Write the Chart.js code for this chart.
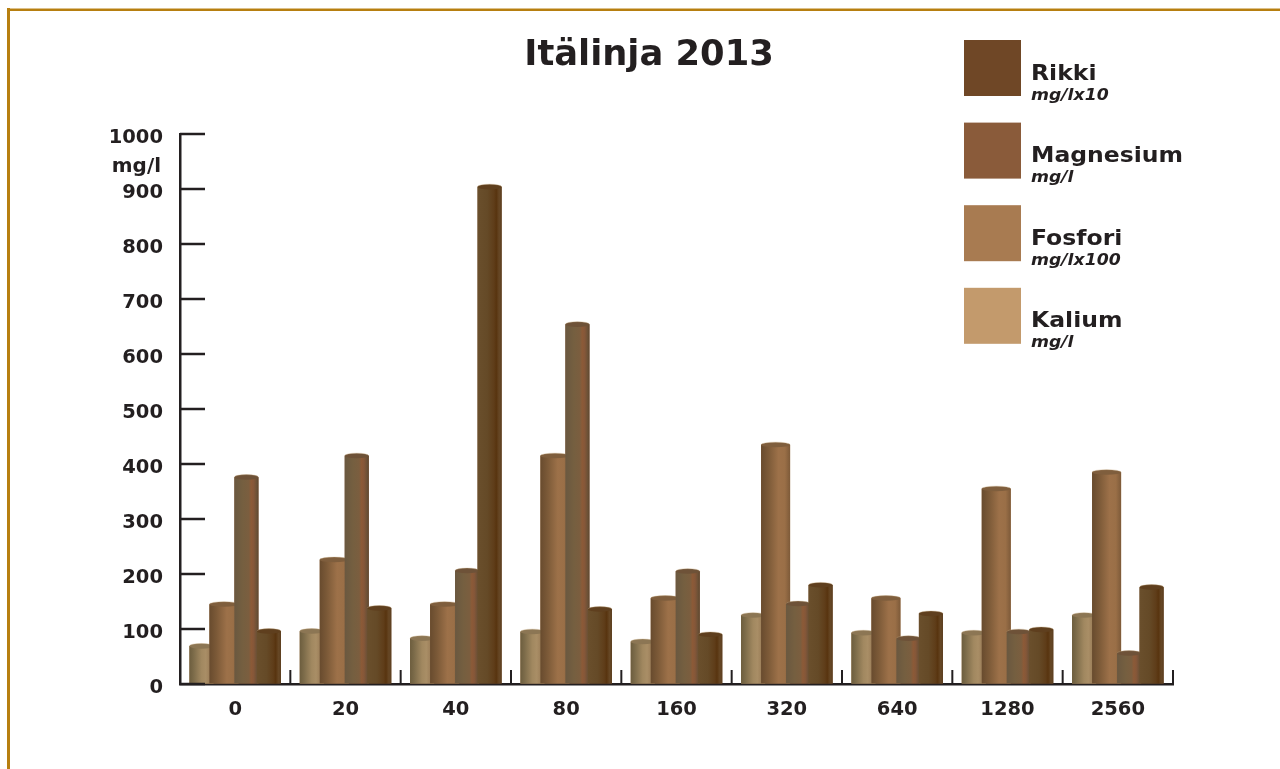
<!DOCTYPE html>
<html lang="fi">
<head>
<meta charset="utf-8">
<title>Itälinja 2013</title>
<script src="https://cdn.jsdelivr.net/npm/chart.js@4.4.1/dist/chart.umd.min.js"></script>
<style>
  html, body { margin: 0; padding: 0; background: #ffffff; }
  #wrap { position: relative; width: 1280px; height: 769px; overflow: hidden; }
  #frameTop { position: absolute; left: 7px; top: 8px; width: 1273px; height: 3px; background: #b77f10; border-top: 1px solid #dcc08a; box-sizing: border-box; }
  #frameLeft { position: absolute; left: 7px; top: 8px; width: 3px; height: 761px; background: #b77f10; }
  canvas { position: absolute; left: 0; top: 0; }
</style>
</head>
<body>
<div id="wrap">
  <canvas id="chart" width="1280" height="769"></canvas>
  <div id="frameTop"></div>
  <div id="frameLeft"></div>
</div>
<script>
// Sample rows (x-axis categories)
const categories = ['0', '20', '40', '80', '160', '320', '640', '1280', '2560'];

// Measured values per series
const kalium    = [69, 96, 83, 95, 77, 125, 93, 93, 125];
const fosfori   = [145, 226, 145, 415, 156, 435, 156, 355, 385];
const magnesium = [376, 415, 206, 654, 205, 146, 83, 95, 56];
const rikki     = [96, 138, 904, 136, 90, 180, 128, 99, 176];

// Series names and units shown in the legend
const seriesNames = ['Kalium', 'Fosfori', 'Magnesium', 'Rikki'];
const seriesUnits = ['mg/l', 'mg/lx100', 'mg/l', 'mg/lx10'];

// Value axis
const yMin = 0;
const yMax = 1000;
const yStep = 100;
const yUnit = 'mg/l';
const titleText = 'Itälinja 2013';

// Styling
const ink = '#231f20';
const legendColors = ['#c39a6c', '#a87b51', '#8a5b3a', '#6f4726'];
const barWidths = [1.07, 1.29, 1.07, 1.07];
const cylinderStops = [
  [[0, '#6c5d3e'], [0.18, '#7d6c4a'], [0.5, '#a18860'], [0.68, '#a98e66'], [0.88, '#9a7c57'], [1, '#85704f']],
  [[0, '#684b2e'], [0.25, '#7c5a38'], [0.6, '#9d7149'], [0.82, '#9a6f47'], [1, '#7d5a39']],
  [[0, '#6a5840'], [0.35, '#755f40'], [0.6, '#7b5e3f'], [0.7, '#8c5a37'], [0.8, '#855739'], [0.92, '#6d5136'], [1, '#5e462f']],
  [[0, '#6a4f2c'], [0.4, '#654a27'], [0.68, '#5f3d19'], [0.78, '#58340f'], [0.9, '#664725'], [1, '#5c3f20']]
];
const capColors = ['#8c7654', '#7f5e3d', '#6e5238', '#5f3f1e'];

const FONT = '"DejaVu Sans", "Open Sans", sans-serif';

function stretchedText(ctx, text, x, y, font, sx, align) {
  ctx.save();
  ctx.font = font;
  ctx.textBaseline = 'alphabetic';
  ctx.fillStyle = ink;
  const w = ctx.measureText(text).width * sx;
  let left = x;
  if (align === 'center') left = x - w / 2;
  else if (align === 'right') left = x - w;
  ctx.translate(left, y);
  ctx.scale(sx, 1);
  ctx.textAlign = 'left';
  ctx.fillText(text, 0, 0);
  ctx.restore();
}

// Draws each bar as a shaded cylinder on top of the library's bar geometry,
// left-to-right series order so later series sit in front.
const cylinderPlugin = {
  id: 'cylinders',
  afterDatasetsDraw(chart) {
    const ctx = chart.ctx;
    ctx.save();
    chart.data.datasets.forEach((ds, di) => {
      const meta = chart.getDatasetMeta(di);
      if (meta.hidden) return;
      meta.data.forEach(el => {
        const p = el.getProps(['x', 'y', 'base', 'width'], true);
        const l = p.x - p.width / 2;
        const g = ctx.createLinearGradient(l, 0, l + p.width, 0);
        cylinderStops[di].forEach(s => g.addColorStop(s[0], s[1]));
        ctx.fillStyle = g;
        ctx.fillRect(l, p.y, p.width, p.base - p.y);
        // rounded top
        ctx.beginPath();
        ctx.ellipse(p.x, p.y, p.width / 2, 2.6, 0, 0, Math.PI * 2);
        ctx.fillStyle = capColors[di];
        ctx.fill();
        ctx.beginPath();
        ctx.ellipse(p.x, p.y, p.width / 2, 2.6, 0, Math.PI, Math.PI * 2);
        ctx.strokeStyle = 'rgba(200,170,130,0.45)';
        ctx.lineWidth = 0.8;
        ctx.stroke();
      });
    });
    ctx.restore();
  }
};

// Inward tick marks, unit label, title and the square legend
const decorPlugin = {
  id: 'decor',
  afterDraw(chart) {
    const ctx = chart.ctx;
    const ys = chart.scales.y;
    const xs = chart.scales.x;
    const area = chart.chartArea;
    ctx.save();
    ctx.strokeStyle = ink;
    ctx.lineWidth = 2.5;
    ctx.lineCap = 'butt';
    // value ticks pointing into the plot
    ys.ticks.forEach(t => {
      const py = Math.round(ys.getPixelForValue(t.value));
      ctx.beginPath();
      ctx.moveTo(area.left, py);
      ctx.lineTo(area.left + 25, py);
      ctx.stroke();
    });
    // category separators rising from the baseline
    ctx.lineWidth = 2;
    const base = area.bottom;
    for (let i = 1; i <= categories.length; i++) {
      const px = i < categories.length
        ? (xs.getPixelForTick(i - 1) + xs.getPixelForTick(i)) / 2
        : area.right;
      ctx.beginPath();
      ctx.moveTo(px, base);
      ctx.lineTo(px, base - 14);
      ctx.stroke();
    }
    ctx.restore();

    // unit under the top value
    stretchedText(ctx, yUnit, 161, ys.getPixelForValue(940) + 5, 'bold 19px ' + FONT, 1.05, 'right');

    // title
    stretchedText(ctx, titleText, 649, 65, 'bold 36px ' + FONT, 0.98, 'center');

    // legend, darkest series at the top
    const order = [3, 2, 1, 0];
    order.forEach((si, row) => {
      const top = 40 + row * 82.6;
      ctx.fillStyle = legendColors[si];
      ctx.fillRect(964, top, 57, 56);
      stretchedText(ctx, chart.data.datasets[si].label, 1031, top + 39.5, 'bold 21px ' + FONT, 1.12, 'left');
      stretchedText(ctx, seriesUnits[si], 1031, top + 59.5, 'italic bold 15px ' + FONT, 1.15, 'left');
    });
  }
};

const seriesValues = [kalium, fosfori, magnesium, rikki];

new Chart(document.getElementById('chart'), {
  type: 'bar',
  data: {
    labels: categories,
    datasets: seriesNames.map((name, i) => ({
      label: name,
      data: seriesValues[i],
      backgroundColor: legendColors[i],
      borderWidth: 0,
      barPercentage: barWidths[i],
      categoryPercentage: 0.816
    }))
  },
  options: {
    responsive: false,
    devicePixelRatio: 1,
    animation: false,
    layout: { padding: { top: 134, right: 107, bottom: 0, left: 0 } },
    plugins: {
      legend: { display: false },
      title: { display: false },
      tooltip: { enabled: false }
    },
    scales: {
      x: {
        z: 1,
        afterFit(scale) { scale.height = 85; },
        grid: { display: true, drawOnChartArea: false, drawTicks: false },
        border: { display: true, color: ink, width: 2.5 },
        ticks: {
          color: ink,
          padding: 14,
          maxRotation: 0,
          autoSkip: false,
          font: { family: FONT, size: 19.5, weight: 'bold' }
        }
      },
      y: {
        z: 1,
        min: yMin,
        max: yMax,
        afterFit(scale) { scale.width = 180; },
        grid: { display: true, drawOnChartArea: false, drawTicks: false },
        border: { display: true, color: ink, width: 2.5 },
        ticks: {
          stepSize: yStep,
          color: ink,
          padding: 17,
          labelOffset: 4,
          callback: v => String(v),
          font: { family: FONT, size: 19.5, weight: 'bold' }
        }
      }
    }
  },
  plugins: [cylinderPlugin, decorPlugin]
});
</script>
</body>
</html>
